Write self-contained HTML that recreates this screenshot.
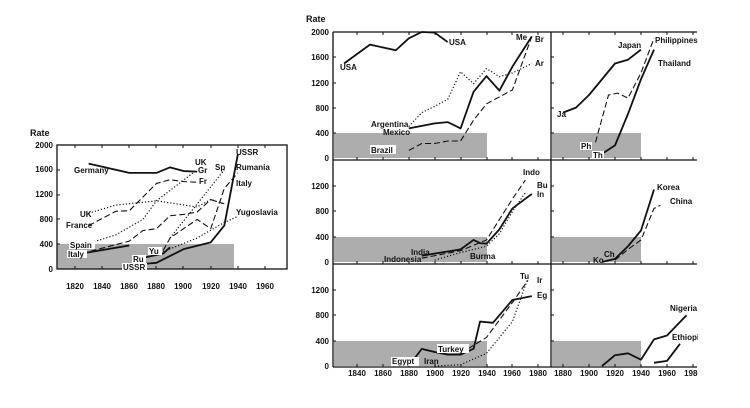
<!DOCTYPE html>
<html><head><meta charset="utf-8"><style>
html,body{margin:0;padding:0;background:#fff}
svg{display:block}
text{font-family:"Liberation Sans",sans-serif;font-size:8px;font-weight:bold;fill:#111}
.s,.d,.o,.t{fill:none;stroke:#111;vector-effect:non-scaling-stroke;stroke-linejoin:round}
.s{stroke-width:1.8}
.t{stroke-width:1.2}
.d{stroke-width:1.1;stroke-dasharray:6 3}
.o{stroke-width:1.2;stroke-dasharray:1.2 2}
.ax{stroke:#111;stroke-width:1.3;fill:none}
</style></head><body>
<svg width="750" height="408" viewBox="0 0 750 408">
<!-- shading -->
<g fill="#adadad">
<rect x="57" y="244" width="177" height="25"/>
<rect x="334" y="133" width="153" height="25"/>
<rect x="334" y="237" width="153" height="25"/>
<rect x="334" y="341" width="153" height="25"/>
<rect x="552" y="133" width="89" height="25"/>
<rect x="552" y="237" width="89" height="25"/>
<rect x="552" y="341" width="89" height="25"/>
</g>
<!-- LEFT CHART -->
<text x="30" y="136" style="font-size:9px">Rate</text>
<rect class="ax" x="57" y="145" width="230" height="124"/>
<g text-anchor="end">
<text x="53" y="272">0</text><text x="53" y="247">400</text><text x="53" y="222">800</text><text x="53" y="197">1200</text><text x="53" y="172">1600</text><text x="53" y="148">2000</text>
</g>
<g text-anchor="middle">
<text x="75" y="289">1820</text><text x="102" y="289">1840</text><text x="129" y="289">1860</text><text x="156" y="289">1880</text><text x="183" y="289">1900</text><text x="211" y="289">1920</text><text x="238" y="289">1940</text><text x="265" y="289">1960</text>
</g>
<g stroke="#111" stroke-width="1">
<path d="M75 145v3M102 145v3M129 145v3M156 145v3M183 145v3M211 145v3M238 145v3M265 145v3M75 269v-3M102 269v-3M129 269v-3M156 269v-3M183 269v-3M211 269v-3M238 269v-3M265 269v-3M57 244h3M57 219h3M57 195h3M57 170h3"/>
</g>
<g transform="matrix(1.357,0,0,-0.062,-2394.7,269)">
<polyline class="s" points="1830,1700 1860,1550 1880,1550 1890,1640 1900,1580 1910,1570"/>
<polyline class="o" points="1830,900 1850,1030 1880,1100 1910,1000 1920,1120 1930,1050"/>
<polyline class="o" points="1825,380 1850,550 1870,800 1880,1100 1910,1600"/>
<polyline class="d" points="1830,700 1850,930 1860,940 1880,1380 1890,1440 1900,1410 1910,1400"/>
<polyline class="d" points="1825,250 1860,450 1870,620 1880,650 1890,860 1900,880 1910,920 1920,1120 1930,1050"/>
<polyline class="d" points="1885,300 1890,500 1910,800 1920,650 1930,1300 1940,1550"/>
<polyline class="o" points="1890,500 1930,1600"/>
<polyline class="o" points="1885,280 1910,500 1930,750 1940,850"/>
<polyline class="s" points="1825,250 1860,380"/>
<polyline class="s" points="1870,180 1885,250 1890,350"/>
<polyline class="s" points="1870,80 1880,100 1900,320 1920,430 1930,700 1940,1850"/>
</g>
<text x="74" y="173">Germany</text>
<text x="195" y="165">UK</text><text x="198" y="173">Gr</text><text x="199" y="184">Fr</text>
<text x="215" y="170">Sp</text>
<text x="236" y="155">USSR</text><text x="236" y="170">Rumania</text><text x="236" y="186">Italy</text><text x="236" y="215">Yugoslavia</text>
<text x="80" y="217">UK</text><text x="66" y="228">France</text>
<rect x="69" y="241" width="26" height="8" fill="#fff"/><text x="70" y="248">Spain</text>
<rect x="67" y="250" width="20" height="8" fill="#fff"/><text x="68" y="257">Italy</text>
<rect x="148" y="247" width="14" height="8" fill="#fff"/><text x="149" y="254">Yu</text>
<rect x="132" y="255" width="14" height="8" fill="#fff"/><text x="133" y="262">Ru</text>
<rect x="122" y="263" width="25" height="8" fill="#fff"/><text x="123" y="270">USSR</text>

<!-- RIGHT CHARTS frame -->
<text x="306" y="22" style="font-size:9px">Rate</text>
<path class="ax" d="M333 32H697M333 32V367M551 32V367M333 160H697M333 264H697M333 367H697"/>
<g stroke="#111" stroke-width="1">
<path d="M357 32v3M383 32v3M409 32v3M435 32v3M461 32v3M487 32v3M512 32v3M538 32v3M563 32v3M589 32v3M615 32v3M641 32v3M667 32v3M693 32v3
M357 160v-3M383 160v-3M409 160v-3M435 160v-3M461 160v-3M487 160v-3M512 160v-3M538 160v-3M563 160v-3M589 160v-3M615 160v-3M641 160v-3M667 160v-3M693 160v-3
M357 264v-3M383 264v-3M409 264v-3M435 264v-3M461 264v-3M487 264v-3M512 264v-3M538 264v-3M563 264v-3M589 264v-3M615 264v-3M641 264v-3M667 264v-3M693 264v-3
M357 367v-3M383 367v-3M409 367v-3M435 367v-3M461 367v-3M487 367v-3M512 367v-3M538 367v-3M563 367v-3M589 367v-3M615 367v-3M641 367v-3M667 367v-3M693 367v-3
M333 133h3M333 108h3M333 83h3M333 57h3M551 133h3M551 108h3M551 83h3M551 57h3
M333 237h3M333 211h3M333 186h3M551 237h3M551 211h3M551 186h3
M333 341h3M333 315h3M333 290h3M551 341h3M551 315h3M551 290h3"/>
</g>
<g text-anchor="end">
<text x="329" y="161">0</text><text x="329" y="136">400</text><text x="329" y="111">800</text><text x="329" y="86">1200</text><text x="329" y="60">1600</text><text x="329" y="35">2000</text>
<text x="329" y="265">0</text><text x="329" y="240">400</text><text x="329" y="214">800</text><text x="329" y="189">1200</text>
<text x="329" y="369">0</text><text x="329" y="344">400</text><text x="329" y="318">800</text><text x="329" y="293">1200</text>
</g>
<g text-anchor="middle">
<text x="357" y="376">1840</text><text x="383" y="376">1860</text><text x="409" y="376">1880</text><text x="435" y="376">1900</text><text x="461" y="376">1920</text><text x="487" y="376">1940</text><text x="512" y="376">1960</text><text x="538" y="376">1980</text>
<text x="563" y="376">1880</text><text x="589" y="376">1900</text><text x="615" y="376">1920</text><text x="641" y="376">1940</text><text x="667" y="376">1960</text><text x="693" y="376">1980</text>
</g>
<rect x="698" y="368" width="52" height="12" fill="#fff"/>

<!-- Americas -->
<g transform="matrix(1.295,0,0,-0.063,-2025.8,158)">
<polyline class="s" points="1830,1500 1850,1800 1870,1710 1880,1900 1890,2000 1900,1990 1910,1840"/>
<polyline class="o" points="1880,500 1890,720 1900,820 1910,930 1920,1370 1930,1180 1940,1420 1950,1290 1960,1350 1975,1500"/>
<polyline class="s" points="1880,470 1900,550 1910,570 1920,470 1930,1050 1940,1300 1950,1070 1960,1450 1975,1930"/>
<polyline class="d" points="1880,120 1890,230 1900,230 1910,270 1920,270 1930,600 1940,860 1960,1080 1975,1930"/>
</g>
<text x="340" y="70">USA</text><text x="449" y="45">USA</text>
<text x="516" y="40">Me</text><text x="535" y="42">Br</text><text x="535" y="66">Ar</text>
<text x="371" y="127">Argentina</text><text x="383" y="135">Mexico</text>
<rect x="370" y="145" width="26" height="9" fill="#fff"/><text x="371" y="153">Brazil</text>
<!-- Asia top -->
<g transform="matrix(1.3,0,0,-0.063,-1881,158)">
<polyline class="s" points="1880,720 1890,800 1900,1000 1920,1500 1930,1560 1940,1720"/>
<polyline class="d" points="1905,250 1915,1000 1922,1030 1930,950 1940,1350 1950,1900"/>
<polyline class="s" points="1905,0 1920,200 1930,700 1940,1250 1950,1720"/>
</g>
<text x="618" y="48">Japan</text><text x="655" y="43">Philippines</text><text x="658" y="66">Thailand</text>
<text x="557" y="117">Ja</text>
<rect x="580" y="142" width="12" height="8" fill="#fff"/><text x="581" y="149">Ph</text>
<rect x="592" y="151" width="12" height="8" fill="#fff"/><text x="593" y="158">Th</text>
<!-- South Asia -->
<g transform="matrix(1.295,0,0,-0.063,-2025.8,262)">
<polyline class="s" points="1890,100 1920,200 1930,350 1935,300 1940,290 1950,520 1960,850 1975,1080"/>
<polyline class="d" points="1890,60 1920,180 1940,350 1960,1000 1970,1300"/>
<polyline class="o" points="1900,30 1920,150 1940,250 1950,450 1960,800 1970,1100"/>
</g>
<text x="523" y="175">Indo</text><text x="537" y="188">Bu</text><text x="537" y="197">In</text>
<text x="411" y="255">India</text><text x="384" y="262">Indonesia</text><text x="470" y="259">Burma</text>
<!-- East Asia -->
<g transform="matrix(1.3,0,0,-0.063,-1881,262)">
<polyline class="s" points="1910,0 1920,50 1930,250 1940,500 1950,1150"/>
<polyline class="d" points="1920,30 1930,200 1940,350 1950,850 1955,900"/>
</g>
<text x="657" y="190">Korea</text><text x="670" y="204">China</text>
<text x="604" y="257">Ch</text><text x="593" y="263">Ko</text>
<!-- Middle East -->
<g transform="matrix(1.295,0,0,-0.0635,-2025.8,366)">
<polyline class="s" points="1880,0 1890,270 1900,220 1910,180 1920,180 1930,270 1935,700 1945,680 1960,1040 1975,1100"/>
<polyline class="d" points="1920,200 1940,450 1960,1000 1972,1350"/>
<polyline class="o" points="1900,0 1920,20 1940,200 1960,700 1972,1380"/>
</g>
<text x="520" y="279">Tu</text><text x="537" y="283">Ir</text><text x="537" y="298">Eg</text>
<rect x="437" y="344" width="32" height="9" fill="#fff"/><text x="438" y="352">Turkey</text>
<rect x="391" y="357" width="28" height="9" fill="#fff"/><text x="392" y="364">Egypt</text>
<text x="424" y="364">Iran</text>
<!-- Africa -->
<g transform="matrix(1.3,0,0,-0.0635,-1881,366)">
<polyline class="s" points="1910,0 1920,170 1930,200 1940,100 1950,420 1960,480 1975,800"/>
<polyline class="s" points="1950,50 1960,80 1970,350"/>
</g>
<text x="670" y="311">Nigeria</text><text x="672" y="340">Ethiopia</text>
<rect x="698" y="300" width="52" height="60" fill="#fff"/>
</svg>
</body></html>
